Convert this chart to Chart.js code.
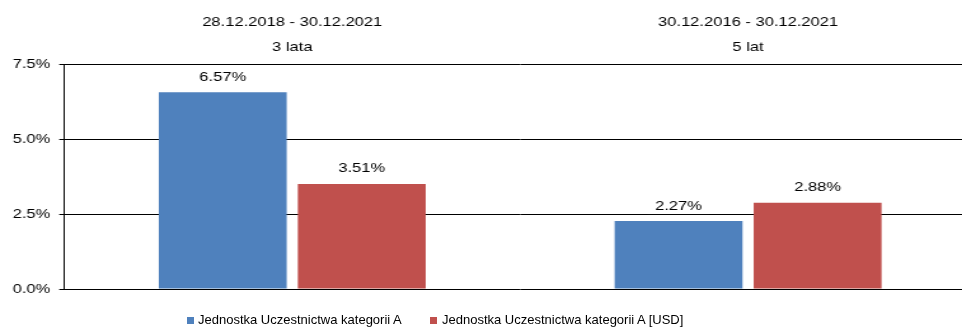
<!DOCTYPE html>
<html lang="pl">
<head>
<meta charset="UTF-8">
<title>Stopy zwrotu</title>
<script src="https://cdn.jsdelivr.net/npm/chart.js"></script>
<style>
    html, body { margin: 0; padding: 0; background: #fff; overflow: hidden; width: 962px; height: 327px; }
    #wrap { position: relative; width: 962px; height: 327px; overflow: hidden; }
    #wykres { position: absolute; left: 0; top: 0; }
    .legenda { position: absolute; top: 312px; left: 0; font: 13px "Liberation Sans", Arial, sans-serif; color: #000; white-space: nowrap; }
    .legenda span.kw { position: absolute; width: 7px; height: 7px; top: 5px; }
    .legenda span.tx { position: absolute; top: 0; }
</style>
</head>
<body>
<div id="wrap">
    <!-- canvas drawn narrow and stretched horizontally -->
    <canvas id="wykres" width="768" height="327" style="width:976px;height:327px"></canvas>
    <div class="legenda">
        <span class="kw" style="left:187px;background:#4F81BD"></span>
        <span class="tx" id="leg0" style="left:198px"></span>
        <span class="kw" style="left:430px;background:#C0504D"></span>
        <span class="tx" id="leg1" style="left:442px"></span>
    </div>
</div>

<script>
    // okresy
    const okresy = [
        ["28.12.2018 - 30.12.2021", "3 lata"],
        ["30.12.2016 - 30.12.2021", "5 lat"]
    ];

    const serie = ["Jednostka Uczestnictwa kategorii A", "Jednostka Uczestnictwa kategorii A [USD]"];
    const kolory = ["#4F81BD", "#C0504D"];

    // stopy zwrotu w %
    const jednostkaA = [6.57, 2.27];
    const jednostkaAUsd = [3.51, 2.88];

    const osY = [0, 2.5, 5.0, 7.5];

    const czcionka = '"Liberation Sans", Arial, sans-serif';

    document.getElementById("leg0").textContent = serie[0];
    document.getElementById("leg1").textContent = serie[1];

    // etykiety wartosci nad slupkami, na bialym tle
    const etykiety = {
        id: "etykiety",
        afterDatasetsDraw(chart) {
            const c = chart.ctx;
            c.save();
            c.font = "13px " + czcionka;
            c.textAlign = "center";
            c.textBaseline = "middle";
            chart.data.datasets.forEach((ds, i) => {
                chart.getDatasetMeta(i).data.forEach((bar, j) => {
                    const txt = ds.data[j].toFixed(2) + "%";
                    const w = c.measureText(txt).width;
                    const y = bar.y - 15;
                    c.fillStyle = "#fff";
                    c.fillRect(bar.x - w / 2 - 6, y - 8, w + 12, 16);
                    c.fillStyle = "#000";
                    c.fillText(txt, bar.x, y);
                });
            });
            c.restore();
        }
    };

    new Chart(document.getElementById("wykres"), {
        type: "bar",
        data: {
            labels: okresy,
            datasets: [
                { label: serie[0], data: jednostkaA, backgroundColor: kolory[0], categoryPercentage: 0.61, barPercentage: 0.92 },
                { label: serie[1], data: jednostkaAUsd, backgroundColor: kolory[1], categoryPercentage: 0.61, barPercentage: 0.92 }
            ]
        },
        options: {
            responsive: false,
            animation: false,
            devicePixelRatio: 1,
            layout: { padding: { left: 3, right: 0, top: 5, bottom: 38 } },
            plugins: {
                legend: { display: false },
                tooltip: { enabled: false }
            },
            scales: {
                x: {
                    position: "top",
                    grid: { display: false, drawTicks: false },
                    border: { display: false },
                    ticks: { color: "#000", padding: 5, maxRotation: 0, font: { family: czcionka, size: 13, lineHeight: 1.9 } }
                },
                y: {
                    min: osY[0],
                    max: osY[osY.length - 1],
                    afterBuildTicks: (axis) => { axis.ticks = osY.map(v => ({ value: v })); },
                    grid: { color: "#000", lineWidth: 1, tickLength: 4 },
                    border: { display: true, color: "#000", width: 1 },
                    ticks: { color: "#000", padding: 7, font: { family: czcionka, size: 13 }, callback: (v) => v.toFixed(1) + "%" }
                }
            }
        },
        plugins: [etykiety]
    });
</script>
</body>
</html>
